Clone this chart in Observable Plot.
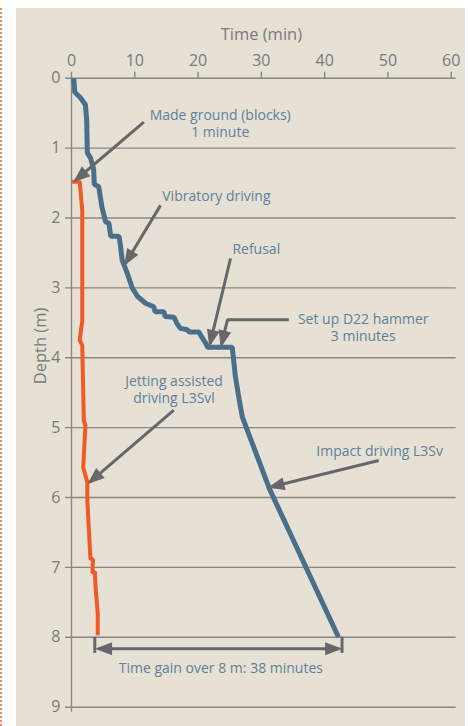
<!DOCTYPE html>
<html><head><meta charset="utf-8">
<script src="https://cdn.jsdelivr.net/npm/d3@7"></script>
<script src="https://cdn.jsdelivr.net/npm/@observablehq/plot@0.6"></script>
<style>
html,body{margin:0;padding:0;background:#fff;}
#wrap{position:relative;width:470px;height:726px;overflow:hidden;}
#panel{position:absolute;left:16px;top:8px;width:449px;height:718px;background:#e6e0d5;}
#dots{position:absolute;left:0;top:8px;height:718px;border-left:2px dotted #f3865a;}
#chart{position:absolute;left:0;top:0;}
</style></head><body>
<div id="wrap"><div id="dots"></div><div id="panel"></div><div id="chart"></div></div>
<script>
// Axis ticks
const timeTicks = [0, 10, 20, 30, 40, 50, 60];
const depthTicks = [0, 1, 2, 3, 4, 5, 6, 7, 8, 9];

// Standard pile: vibratory driving then impact driving (L3Sv)
const standardTime  = [0.36, 0.52, 1.42, 2.2, 2.4, 2.5, 3.0, 3.5, 3.6, 4.3, 4.8, 5.4, 5.9, 6.2, 7.5, 7.7, 8.0, 8.8, 9.6, 10.4, 11.7, 13.0, 13.2, 14.6, 14.8, 16.2, 16.6, 17.2, 18.3, 18.6, 20.1, 20.5, 21.2, 21.5, 25.4, 25.9, 26.5, 27.0, 31.3, 42.2];
const standardDepth = [0.0, 0.2, 0.28, 0.38, 0.6, 1.07, 1.14, 1.3, 1.52, 1.55, 1.84, 2.06, 2.07, 2.26, 2.26, 2.37, 2.6, 2.79, 3.0, 3.12, 3.22, 3.27, 3.34, 3.34, 3.41, 3.42, 3.5, 3.58, 3.6, 3.63, 3.63, 3.69, 3.79, 3.85, 3.85, 4.27, 4.6, 4.85, 5.88, 8.0];

// Jetting assisted driving (L3Svl)
const jettingTime  = [0.1, 1.3, 1.7, 1.7, 1.3, 1.7, 1.95, 2.2, 1.85, 2.5, 2.5, 3.0, 3.4, 3.3, 3.7, 3.8, 4.15, 4.15];
const jettingDepth = [1.48, 1.48, 1.9, 3.47, 3.75, 3.82, 4.9, 4.97, 5.57, 5.78, 6.04, 6.88, 6.88, 7.08, 7.06, 7.28, 7.66, 7.97];

// Annotation labels
const noteText  = ["Made ground (blocks)\n1 minute", "Vibratory driving", "Refusal", "Set up D22 hammer\n3 minutes", "Jetting assisted\ndriving L3Svl", "Impact driving L3Sv", "Time gain over 8 m: 38 minutes"];
const noteTime  = [23.5, 22.9, 29.2, 46.1, 16.2, 48.7, 23.6];
const noteDepth = [0.64, 1.68, 2.44, 3.56, 4.45, 5.33, 8.43];

// Straight arrows (from -> to)
const arrowFromTime  = [11.43, 14.06, 25.13, 16.17, 48.56];
const arrowFromDepth = [0.63, 1.82, 2.58, 4.75, 5.47];
const arrowToTime    = [0.63, 8.53, 21.89, 2.89, 31.45];
const arrowToDepth   = [1.46, 2.65, 3.80, 5.78, 5.85];

// Bent arrow for hammer set-up
const bentTime  = [34.34, 24.65, 23.7];
const bentDepth = [3.457, 3.457, 3.81];

// Time gain dimension line
const gainEnds  = [3.68, 42.75];
const gainFrom  = 4.2, gainTo = 42.3, gainDepth = 8.165;
const gainTickTop = 8.0, gainTickBottom = 8.23;

const standard = standardTime.map((t, i) => ({t, d: standardDepth[i]}));
const jetting = jettingTime.map((t, i) => ({t, d: jettingDepth[i]}));
const notes = noteText.map((s, i) => ({s, t: noteTime[i], d: noteDepth[i]}));
const arrows = arrowFromTime.map((t1, i) => ({t1, d1: arrowFromDepth[i], t2: arrowToTime[i], d2: arrowToDepth[i]}));
const bent = bentTime.map((t, i) => ({t, d: bentDepth[i]}));
const gain = [{a: gainFrom, b: gainTo, d: gainDepth}];

const gridColor = "#8a8782";
const arrowColor = "#67676b";   // single-headed arrows
const bentColor = "#67676c";    // same grey, used to tag the bent arrow
const gainColor = "#67676a";    // same grey, used to tag the double arrow
const noteColor = "#5f809a";

const plot = Plot.plot({
  width: 470, height: 726,
  marginLeft: 71, marginRight: 19.3, marginTop: 77.7, marginBottom: 19.3,
  style: {background: "transparent", fontFamily: "'Open Sans', sans-serif", fontSize: "16px", color: "#7a7a7a", overflow: "visible"},
  x: {domain: [0, 60]},
  y: {domain: [0, 9], reverse: true},
  marks: [
    Plot.ruleY(depthTicks, {stroke: gridColor, strokeWidth: 1.4, insetLeft: -6, insetRight: -5}),
    Plot.ruleX([0], {stroke: gridColor, strokeWidth: 1.4, insetBottom: -5}),
    Plot.axisX({anchor: "top", ticks: timeTicks, tickSize: 7, tickPadding: 5, label: null, stroke: gridColor, strokeWidth: 1.4}),
    Plot.axisY({anchor: "left", ticks: depthTicks, tickSize: 0, tickPadding: 11, label: null}),
    Plot.text(["Time (min)"], {frameAnchor: "top", dy: -50, fontSize: 16.5, fill: "#7a7a7a"}),
    Plot.text(["Depth (m)"], {frameAnchor: "left", y: [4.38], dx: -31, rotate: -90, fontSize: 16.5, fill: "#7a7a7a"}),
    Plot.line(jetting, {x: "t", y: "d", stroke: "#f15a24", strokeWidth: 4, strokeLinejoin: "miter", strokeLinecap: "butt"}),
    Plot.line(standard, {x: "t", y: "d", stroke: "#4a6f8b", strokeWidth: 5, strokeLinejoin: "miter", strokeLinecap: "butt"}),
    Plot.link(arrows, {x1: "t1", y1: "d1", x2: "t2", y2: "d2", stroke: arrowColor, strokeWidth: 3}),
    Plot.line(bent, {x: "t", y: "d", stroke: bentColor, strokeWidth: 3, strokeLinejoin: "miter", strokeLinecap: "butt"}),
    Plot.ruleX(gainEnds, {y1: gainTickTop, y2: gainTickBottom, stroke: arrowColor, strokeWidth: 3}),
    Plot.link(gain, {x1: "a", x2: "b", y1: "d", y2: "d", stroke: gainColor, strokeWidth: 3}),
    Plot.text(notes, {x: "t", y: "d", text: "s", fill: noteColor, fontSize: 14, lineHeight: 1.19})
  ]
});

const svg = d3.select(plot);
const defs = svg.insert("defs", ":first-child");
defs.append("marker")
  .attr("id", "ahead").attr("viewBox", "-20 -9 26 18")
  .attr("refX", 0).attr("refY", 0)
  .attr("markerWidth", 26).attr("markerHeight", 18)
  .attr("markerUnits", "userSpaceOnUse").attr("orient", "auto-start-reverse")
  .append("path").attr("d", "M3,0L-14,-6.5L-14,6.5Z").attr("fill", "#67676b");
function pathsWithStroke(color) {
  const out = [];
  plot.querySelectorAll("g, path").forEach(el => {
    const s = (el.getAttribute("stroke") || "").toLowerCase();
    if (s !== color) return;
    if (el.tagName.toLowerCase() === "path") out.push(el);
    else el.querySelectorAll("path").forEach(p => out.push(p));
  });
  return out;
}
pathsWithStroke(arrowColor).forEach(p => p.setAttribute("marker-end", "url(#ahead)"));
pathsWithStroke(bentColor).forEach(p => p.setAttribute("marker-end", "url(#ahead)"));
pathsWithStroke(gainColor).forEach(p => { p.setAttribute("marker-start", "url(#ahead)"); p.setAttribute("marker-end", "url(#ahead)"); });

document.getElementById("chart").appendChild(plot);
</script>
</body></html>
